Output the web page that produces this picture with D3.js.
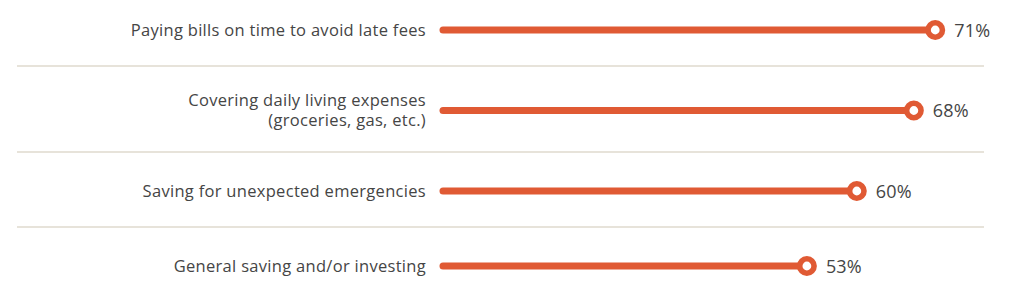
<!DOCTYPE html>
<html>
<head>
<meta charset="utf-8">
<script src="https://cdn.jsdelivr.net/npm/d3@7"></script>
<style>
  body { margin: 0; background: #fff; }
  svg { display: block; }
</style>
</head>
<body>
<div id="chart"></div>
<script>
// data
var categories = [
  ["Paying bills on time to avoid late fees"],
  ["Covering daily living expenses", "(groceries, gas, etc.)"],
  ["Saving for unexpected emergencies"],
  ["General saving and/or investing"]
];
var values = [71, 68, 60, 53];
var valueLabels = ["71%", "68%", "60%", "53%"];

var width = 1024, height = 296;
var orange = "#e05a34";
var textColor = "#454545";
var barStart = 443;
var labelRight = 426;

var svg = d3.select("#chart")
  .append("svg")
  .attr("width", width)
  .attr("height", height);

var x = d3.scaleLinear()
  .domain([0, 100])
  .range([429, 1142]);

// row layout: single line rows are 75px, every extra line adds 11px
var rows = [];
var rowTop = -9;
categories.forEach(function(c, i){
  var h = 75 + (c.length - 1) * 11;
  rows.push({top: rowTop, h: h, cy: rowTop + h / 2 + 1.5, lines: c, value: values[i], label: valueLabels[i]});
  rowTop += h;
});

// separators
svg.selectAll("line.sep")
  .data(rows.slice(1))
  .enter()
  .append("line")
  .attr("class", "sep")
  .attr("x1", 17)
  .attr("x2", 984)
  .attr("y1", function(d){ return d.top; })
  .attr("y2", function(d){ return d.top; })
  .style("stroke", "#e7e3da")
  .style("stroke-width", 2);

var g = svg.selectAll("g.row")
  .data(rows)
  .enter()
  .append("g")
  .attr("class", "row");

// category labels
g.append("text")
  .attr("text-anchor", "end")
  .style("font-family", "'Open Sans', Lato, sans-serif")
  .style("font-size", "16.5px")
  .style("letter-spacing", "0.3px")
  .style("fill", textColor)
  .each(function(d){
    var t = d3.select(this);
    var lh = 20;
    var y0 = d.cy - (d.lines.length - 1) * lh / 2 + 5.5;
    d.lines.forEach(function(l, i){
      t.append("tspan")
        .attr("x", labelRight)
        .attr("y", y0 + i * lh)
        .text(l);
    });
  });

// bars
g.append("line")
  .attr("x1", barStart)
  .attr("x2", function(d){ return x(d.value); })
  .attr("y1", function(d){ return d.cy; })
  .attr("y2", function(d){ return d.cy; })
  .style("stroke", orange)
  .style("stroke-width", 7)
  .style("stroke-linecap", "round");

// end dots
g.append("circle")
  .attr("cx", function(d){ return x(d.value); })
  .attr("cy", function(d){ return d.cy; })
  .attr("r", 7.2)
  .style("fill", "#fff")
  .style("stroke", orange)
  .style("stroke-width", 5.6);

// value labels
g.append("text")
  .attr("x", function(d){ return x(d.value) + 19; })
  .attr("y", function(d){ return d.cy + 6.5; })
  .style("font-family", "'Open Sans', Lato, sans-serif")
  .style("font-size", "18px")
  .style("letter-spacing", "0.2px")
  .style("fill", textColor)
  .text(function(d){ return d.label; });
</script>
</body>
</html>
